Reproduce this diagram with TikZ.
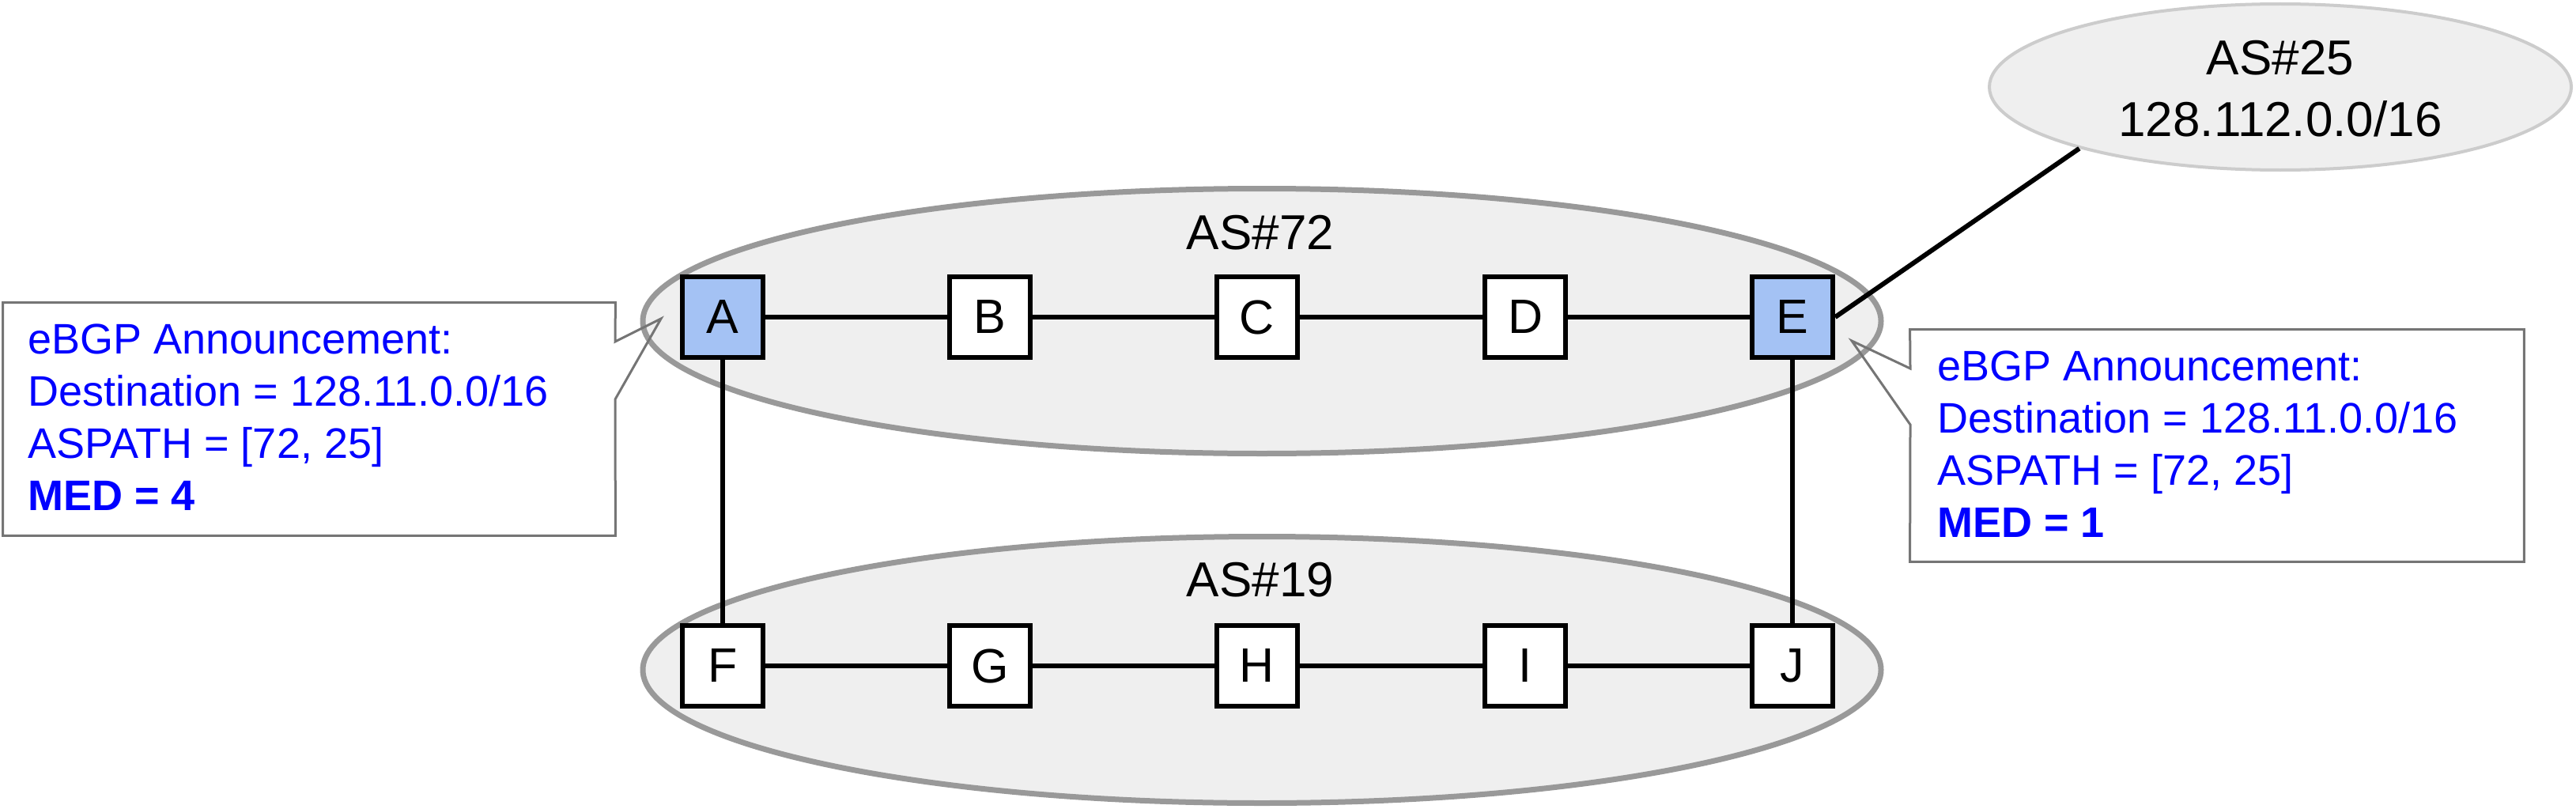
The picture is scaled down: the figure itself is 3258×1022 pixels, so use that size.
\documentclass[tikz,border=0pt]{standalone}
\usepackage{fontspec}
\setmainfont{Liberation Sans}
\usetikzlibrary{shapes.geometric}
\definecolor{asfill}{HTML}{EFEFEF}
\definecolor{asline}{HTML}{999999}
\definecolor{aslinelight}{HTML}{CCCCCC}
\definecolor{rtrblue}{HTML}{A4C2F4}
\definecolor{callline}{HTML}{757575}
\definecolor{calltextcol}{HTML}{0000FF}
\begin{document}
\begin{tikzpicture}[x=0.5pt,y=-0.5pt,
  asregion/.style={ellipse, draw=asline, fill=asfill, line width=3.5pt, inner sep=0pt},
  router/.style={rectangle, draw=black, line width=3pt, fill=white, minimum size=51pt, inner sep=0pt, font=\fontsize{30.5}{36}\selectfont},
  border router/.style={router, fill=rtrblue},
  link/.style={draw=black, line width=3pt},
  aslabel/.style={font=\fontsize{31}{38}\selectfont, anchor=base, inner sep=0pt},
  callframe/.style={rectangle, draw=none, inner sep=0pt},
  calloutline/.style={draw=callline, line width=1.5pt, line join=miter},
  calltext/.style={text=calltextcol, align=left, anchor=north west, inner sep=0pt, font=\fontsize{27}{33}\selectfont},
]
\useasboundingbox (0,0) rectangle (3258,1022);

% AS regions
\node[asregion, minimum width=783pt, minimum height=167.5pt] (as72) at (1596,406) {};
\node[asregion, minimum width=783pt, minimum height=168.5pt] (as19) at (1596,847) {};
\node[asregion, draw=aslinelight, line width=2pt, minimum width=368pt, minimum height=105pt] (as25) at (2884,110) {};

\node[aslabel] (as72lbl) at (1594,315) {AS\#72};
\node[aslabel] (as19lbl) at (1594,754) {AS\#19};
\node[aslabel] (as25lbl) at (2884,95) {AS\#25};
\node[aslabel] (as25pfx) at (2884,172) {128.112.0.0/16};

% routers
\node[border router] (A) at (914,401) {A};
\node[router] (B) at (1252,401) {B};
\node[router] (C) at (1590,401) {C};
\node[router] (D) at (1929,401) {D};
\node[border router] (E) at (2267,401) {E};
\node[router] (F) at (914,842) {F};
\node[router] (G) at (1252,842) {G};
\node[router] (H) at (1590,842) {H};
\node[router] (I) at (1929,842) {I};
\node[router] (J) at (2267,842) {J};

% links
\draw[link] (A) -- (B);
\draw[link] (B) -- (C);
\draw[link] (C) -- (D);
\draw[link] (D) -- (E);
\draw[link] (F) -- (G);
\draw[link] (G) -- (H);
\draw[link] (H) -- (I);
\draw[link] (I) -- (J);
\draw[link] (A) -- (F);
\draw[link] (E) -- (J);
\draw[link] (E.east) -- (as25.197);

% left callout
\node[callframe, minimum width=387pt, minimum height=147pt] (lcall) at (391,530) {};
\coordinate (lbaseA) at (778,432);
\coordinate (ltip) at (836,403);
\coordinate (lbaseB) at (778,505);
\draw[calloutline] (lcall.north west) -- (lcall.north east) -- (lbaseA) -- (ltip) -- (lbaseB) -- (lcall.south east) -- (lcall.south west) -- cycle;
\node[calltext] (ltext) at (35,409) {eBGP Announcement:\\Destination = 128.11.0.0/16\\ASPATH = [72, 25]\\\textbf{MED = 4}};

% right callout
\node[callframe, minimum width=388pt, minimum height=146.5pt] (rcall) at (2804,563.5) {};
\coordinate (rbaseA) at (2416,466);
\coordinate (rtip) at (2342,431);
\coordinate (rbaseB) at (2416,537);
\draw[calloutline] (rcall.north west) -- (rcall.north east) -- (rcall.south east) -- (rcall.south west) -- (rbaseB) -- (rtip) -- (rbaseA) -- cycle;
\node[calltext] (rtext) at (2450,443) {eBGP Announcement:\\Destination = 128.11.0.0/16\\ASPATH = [72, 25]\\\textbf{MED = 1}};
\end{tikzpicture}
\end{document}
